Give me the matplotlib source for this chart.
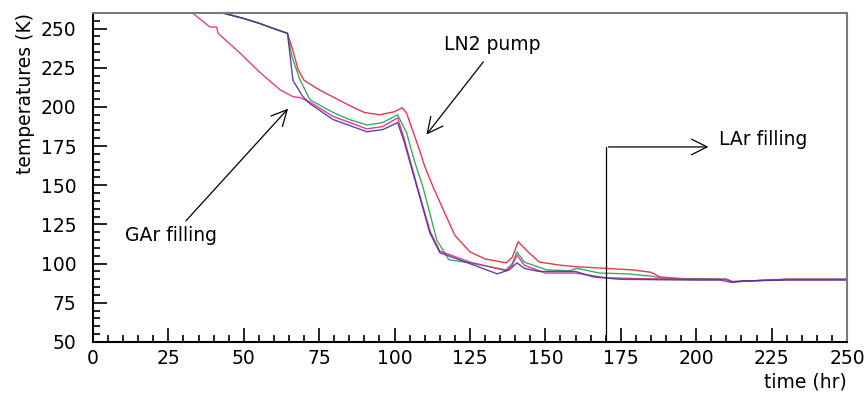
import matplotlib.pyplot as plt
from matplotlib.ticker import MultipleLocator

# time (hr) / temperature (K), one list pair per sensor
red_t = [43, 50, 55, 60, 64.5, 66, 68, 70, 75, 80, 85, 90, 95, 100, 102.5, 104, 106, 108, 110,
         113, 116, 120, 125, 130, 137, 139, 141, 144, 148, 155, 160.5, 170, 179, 185, 188, 195, 210,
         212, 230, 250]
red_k = [260, 256.5, 253.5, 250, 247, 238, 224, 217, 211, 206, 201, 196.5, 195, 197, 199.5, 196,
         185, 174, 162, 148, 135, 118, 107.5, 103, 100.5, 104, 114, 108, 101, 99, 98, 97, 96, 94.5,
         91.5, 90.5, 90, 88.5, 90, 90]

green_t = [43, 50, 55, 60, 64.5, 66, 68.6, 72, 79.6, 85, 90.8, 96, 101, 104, 106.5, 109.4, 114,
           118, 125, 137, 139, 140.6, 143, 150.5, 158, 160.5, 163, 168, 177, 185, 190, 210, 212,
           230, 250]
green_k = [260, 256.5, 253.5, 250, 247, 232, 217.5, 204.5, 196.5, 192, 188.5, 190, 195, 183.5,
           166, 149, 115, 102.5, 100.5, 96, 100, 107.5, 101, 96, 95.5, 97, 96, 94, 93.5, 92, 90.5,
           90, 88.5, 90, 90]

magenta_t = [33, 38.8, 41, 41.5, 48.7, 55.4, 62, 66.3, 68.6, 72, 79.6, 90.8, 96, 101, 103, 107.4,
             111.7, 115, 125, 137, 139, 140.6, 143, 150, 160, 170, 180, 200, 210, 212, 230, 250]
magenta_k = [260, 251, 251, 247, 234.5, 222, 211, 206.6, 206, 203, 194, 186, 187.5, 193, 181, 150,
             121, 108, 101, 95.5, 99, 105.5, 99, 94, 94, 91, 90.5, 90, 90, 88.5, 90, 90]

purple_t = [43, 50, 55, 60, 64.5, 66.3, 69.6, 72, 79.6, 90.8, 96, 101, 103, 107.4, 111.7, 115,
            125, 134, 138, 140.6, 143, 148, 160, 166, 175, 200, 208, 212, 216, 230, 250]
purple_k = [260, 256.5, 253.5, 250, 247, 217, 206.6, 202, 192, 184.2, 185.5, 190, 179, 149, 119.6,
            107, 100, 93.5, 96, 100.5, 97, 95, 95, 91.5, 90, 89.5, 89.5, 88, 89, 89.5, 89.5]

series = [
    (red_t, red_k, "#e8203c"),
    (green_t, green_k, "#23a34f"),
    (magenta_t, magenta_k, "#e0258a"),
    (purple_t, purple_k, "#4f2f9e"),
]

plt.rcParams['font.family'] = ['DejaVu Sans']
fs = 13.5

fig = plt.figure(figsize=(8.68, 3.96), dpi=100)
ax = fig.add_axes([0.1071, 0.1364, 0.8687, 0.8308])

for t, k, c in series:
    ax.plot(t, k, color=c, lw=1.0, alpha=0.9)

ax.set_xlim(0, 250)
ax.set_ylim(50, 260)
ax.xaxis.set_major_locator(MultipleLocator(25))
ax.xaxis.set_minor_locator(MultipleLocator(5))
ax.yaxis.set_major_locator(MultipleLocator(25))
ax.yaxis.set_minor_locator(MultipleLocator(5))
ax.tick_params(which='both', direction='in', top=False, right=False, width=1.2, colors='black',
               labelsize=fs)
ax.tick_params(which='major', length=10)
ax.tick_params(which='minor', length=5)
ax.tick_params(axis='x', pad=5)
ax.tick_params(axis='y', pad=12)

for s in ['left', 'bottom']:
    ax.spines[s].set_linewidth(1.5)
for s in ['top', 'right']:
    ax.spines[s].set_color('#7a7a7a')
    ax.spines[s].set_linewidth(1.5)

ax.set_xlabel("time (hr)", fontsize=fs, loc='right', labelpad=3)
ax.set_ylabel("temperatures (K)", fontsize=fs, loc='top', labelpad=4)

arrow = dict(arrowstyle='->', color='black', lw=0.9, mutation_scale=28)
ax.annotate("", xy=(65.3, 200.2), xytext=(30.2, 126), arrowprops=arrow)
ax.text(10.5, 118, "GAr filling", fontsize=fs, va='center', ha='left')
ax.annotate("", xy=(110, 181), xytext=(130, 230.2), arrowprops=arrow)
ax.text(132.5, 240, "LN2 pump", fontsize=fs, va='center', ha='center')
ax.plot([170, 170], [50, 174.5], color='black', lw=0.9)
ax.annotate("", xy=(205, 174.5), xytext=(170, 174.5), arrowprops=arrow)
ax.text(207.5, 179, "LAr filling", fontsize=fs, va='center', ha='left')

fig.savefig("out.png", dpi=100)
